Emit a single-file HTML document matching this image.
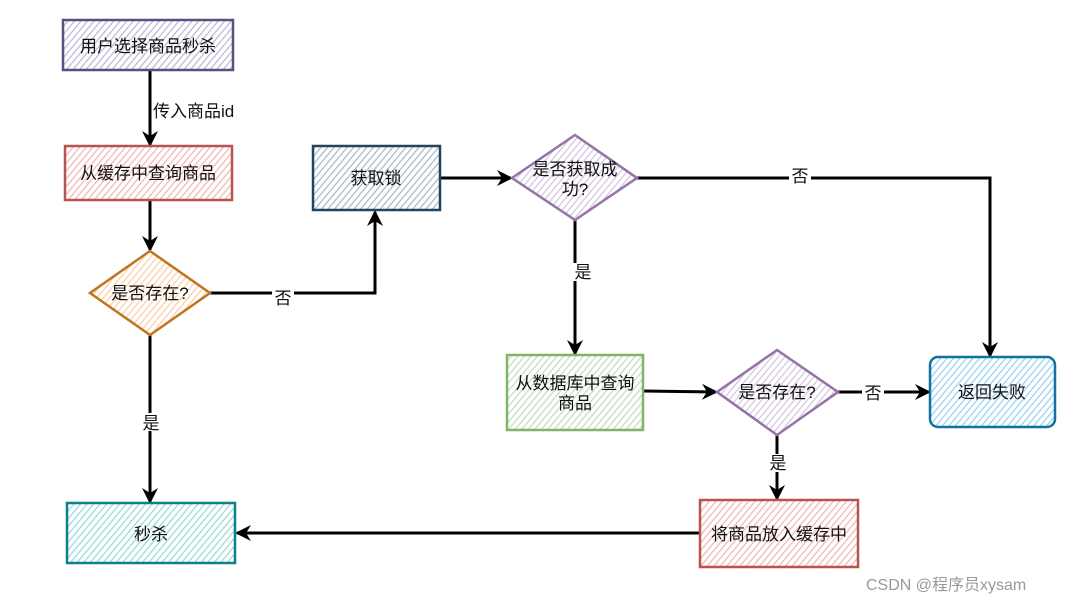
<!DOCTYPE html>
<html><head><meta charset="utf-8"><style>
html,body{margin:0;padding:0;background:#fff;width:1080px;height:605px;overflow:hidden}
svg text{font-family:"Liberation Sans","Noto Sans CJK SC",sans-serif;font-size:17px;fill:#111}
</style></head><body>
<svg width="1080" height="605" viewBox="0 0 1080 605" xmlns="http://www.w3.org/2000/svg">
<defs>
<pattern id="hp" patternUnits="userSpaceOnUse" width="5" height="5" patternTransform="rotate(40)"><rect width="5" height="5" fill="#fff"/><line x1="0" y1="0" x2="0" y2="5" stroke="#bcb8d6" stroke-width="2.5"/></pattern>
<pattern id="hr" patternUnits="userSpaceOnUse" width="5" height="5" patternTransform="rotate(40)"><rect width="5" height="5" fill="#fff"/><line x1="0" y1="0" x2="0" y2="5" stroke="#f3b6b3" stroke-width="2.5"/></pattern>
<pattern id="ho" patternUnits="userSpaceOnUse" width="5" height="5" patternTransform="rotate(40)"><rect width="5" height="5" fill="#fff"/><line x1="0" y1="0" x2="0" y2="5" stroke="#fcd0a6" stroke-width="2.5"/></pattern>
<pattern id="hs" patternUnits="userSpaceOnUse" width="5" height="5" patternTransform="rotate(40)"><rect width="5" height="5" fill="#fff"/><line x1="0" y1="0" x2="0" y2="5" stroke="#a9b9c8" stroke-width="2.5"/></pattern>
<pattern id="hv" patternUnits="userSpaceOnUse" width="5" height="5" patternTransform="rotate(40)"><rect width="5" height="5" fill="#fff"/><line x1="0" y1="0" x2="0" y2="5" stroke="#d5c4e0" stroke-width="2.5"/></pattern>
<pattern id="hg" patternUnits="userSpaceOnUse" width="5" height="5" patternTransform="rotate(40)"><rect width="5" height="5" fill="#fff"/><line x1="0" y1="0" x2="0" y2="5" stroke="#c1ddbc" stroke-width="2.5"/></pattern>
<pattern id="hb" patternUnits="userSpaceOnUse" width="5" height="5" patternTransform="rotate(40)"><rect width="5" height="5" fill="#fff"/><line x1="0" y1="0" x2="0" y2="5" stroke="#97d1ec" stroke-width="2.5"/></pattern>
<pattern id="ht" patternUnits="userSpaceOnUse" width="5" height="5" patternTransform="rotate(40)"><rect width="5" height="5" fill="#fff"/><line x1="0" y1="0" x2="0" y2="5" stroke="#98d8dc" stroke-width="2.5"/></pattern>
<marker id="a" markerWidth="16" markerHeight="16" refX="14" refY="8" orient="auto" markerUnits="userSpaceOnUse"><path d="M0,0 L16,8 L0,16 L5,8 Z" fill="#000"/></marker>
</defs>
<g stroke="#000" stroke-width="3" fill="none">
<line x1="150" y1="70" x2="150" y2="145" marker-end="url(#a)"/>
<line x1="150" y1="200" x2="150" y2="250" marker-end="url(#a)"/>
<line x1="150" y1="335" x2="150" y2="502" marker-end="url(#a)"/>
<polyline points="210,293 375,293 375,212" marker-end="url(#a)"/>
<line x1="440" y1="178" x2="511" y2="178" marker-end="url(#a)"/>
<polyline points="637,178 990,178 990,356" marker-end="url(#a)"/>
<line x1="575" y1="220" x2="575" y2="354" marker-end="url(#a)"/>
<line x1="643" y1="391" x2="716" y2="392" marker-end="url(#a)"/>
<line x1="838" y1="392" x2="929" y2="392" marker-end="url(#a)"/>
<line x1="777" y1="435" x2="777" y2="499" marker-end="url(#a)"/>
<line x1="700" y1="533" x2="237" y2="533" marker-end="url(#a)"/>
</g>
<rect x="63" y="20" width="170" height="50" fill="url(#hp)" stroke="#56517e" stroke-width="2.5"/>
<rect x="65" y="146" width="167" height="54" fill="url(#hr)" stroke="#b85450" stroke-width="2.5"/>
<polygon points="150,251 210,293 150,335 90,293" fill="url(#ho)" stroke="#c07320" stroke-width="2.5"/>
<rect x="313" y="146" width="127" height="64" fill="url(#hs)" stroke="#23445d" stroke-width="2.5"/>
<polygon points="575,135 637,178 575,220 512,178" fill="url(#hv)" stroke="#9673a6" stroke-width="2.5"/>
<rect x="507" y="355" width="136" height="75" fill="url(#hg)" stroke="#82b366" stroke-width="2.5"/>
<polygon points="777,350 838,392 777,435 717,392" fill="url(#hv)" stroke="#9673a6" stroke-width="2.5"/>
<rect x="930" y="357" width="125" height="70" rx="8" fill="url(#hb)" stroke="#10739e" stroke-width="2.5"/>
<rect x="700" y="500" width="158" height="67" fill="url(#hr)" stroke="#b85450" stroke-width="2.5"/>
<rect x="67" y="503" width="168" height="60" fill="url(#ht)" stroke="#0e8088" stroke-width="2.5"/>
<g text-anchor="middle">
<text x="148" y="52">用户选择商品秒杀</text>
<text x="148" y="179">从缓存中查询商品</text>
<text x="150" y="299">是否存在?</text>
<text x="376" y="184">获取锁</text>
<text x="575" y="175">是否获取成</text>
<text x="575" y="195">功?</text>
<text x="575" y="389">从数据库中查询</text>
<text x="575" y="409">商品</text>
<text x="777" y="398">是否存在?</text>
<text x="992" y="398">返回失败</text>
<text x="779" y="540">将商品放入缓存中</text>
<text x="151" y="540">秒杀</text>
</g>
<g text-anchor="middle">
<rect x="272" y="286" width="22" height="18" fill="#fff"/><text x="283" y="304">否</text>
<rect x="789" y="168" width="22" height="18" fill="#fff"/><text x="800" y="182">否</text>
<rect x="862" y="384" width="22" height="18" fill="#fff"/><text x="873" y="399">否</text>
<rect x="140" y="413" width="22" height="18" fill="#fff"/><text x="151" y="429">是</text>
<rect x="572" y="263" width="22" height="18" fill="#fff"/><text x="583" y="278">是</text>
<rect x="767" y="454" width="22" height="18" fill="#fff"/><text x="778" y="469">是</text>
</g>
<text x="153" y="117">传入商品id</text>
<text x="866" y="590" style="fill:#999;font-size:16px">CSDN @程序员xysam</text>
</svg>
</body></html>
